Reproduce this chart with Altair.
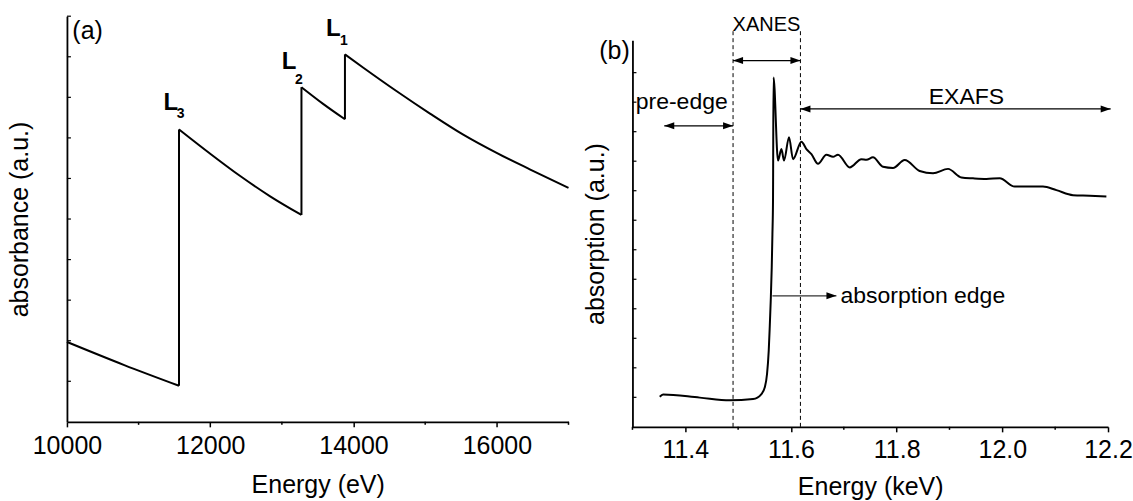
import altair as alt
import pandas as pd

FONT = "Liberation Sans"

# ---------------- panel (a) data: one smooth segment between each edge ----------------
seg_pre_energy = [10000, 10800, 11564]
seg_pre_abs = [1.97, 1.40, 0.89]
seg_l3_energy = [11564, 12000, 12418, 12836, 13273]
seg_l3_abs = [7.21, 6.61, 6.06, 5.56, 5.10]
seg_l2_energy = [13273, 13575, 13880]
seg_l2_abs = [8.25, 7.84, 7.46]
seg_l1_energy = [13880, 14137, 14603, 15067, 15531, 15997, 16467, 17000]
seg_l1_abs = [9.06, 8.73, 8.15, 7.60, 7.08, 6.63, 6.22, 5.77]

left_x_major = [10000, 12000, 14000, 16000]
left_x_minor = [11000, 13000, 15000, 17000]
left_y_ticks = [1, 2, 3, 4, 5, 6, 7, 8, 9, 10]

edge_main = ["L", "L", "L"]
edge_main_energy = [11347, 12999, 13616]
edge_main_abs = [7.70, 8.69, 9.51]
edge_sub = ["3", "2", "1"]
edge_sub_energy = [11534, 13184, 13812]
edge_sub_abs = [7.50, 8.33, 9.30]
panel_a = {"E": 10075, "A": 9.63, "t": "(a)"}

# ---------------- panel (b) data ----------------
right_energy = [11.3517, 11.3580, 11.4275, 11.4842, 11.5283, 11.5441, 11.5503, 11.5547,
                11.5579, 11.5598, 11.5617, 11.5636, 11.5649, 11.5660, 11.5670, 11.5755,
                11.5819, 11.5869, 11.5963, 11.6039, 11.6198, 11.6292, 11.6387, 11.6512,
                11.6671, 11.6796, 11.6890, 11.7112, 11.7333, 11.7428, 11.7552, 11.7742,
                11.7931, 11.8152, 11.8436, 11.8688, 11.8972, 11.9225, 11.9445, 11.9698,
                11.9950, 12.0234, 12.0455, 12.0769, 12.1023, 12.1337, 12.1653, 12.1969]
right_absorption = [1.02, 1.10, 0.99, 0.90, 0.94, 1.11, 1.33, 1.79,
                    2.58, 3.37, 4.27, 5.40, 6.53, 7.66, 11.84, 9.02,
                    9.41, 9.02, 9.81, 9.07, 9.66, 9.41, 9.24, 8.91,
                    9.22, 9.15, 9.22, 8.79, 9.07, 9.05, 9.13, 8.81,
                    8.77, 9.04, 8.67, 8.59, 8.74, 8.45, 8.42, 8.40,
                    8.42, 8.14, 8.14, 8.14, 8.02, 7.85, 7.83, 7.80]
right_x_major = [11.4, 11.6, 11.8, 12.0, 12.2]
right_x_minor = [11.3, 11.5, 11.7, 11.9, 12.1]
right_y_ticks = [1, 2, 3, 4, 5, 6, 7, 8, 9, 10, 11, 12]

region_bounds = [11.4904, 11.6179]          # dashed lines
dash_top = 13.42
arrow_names = ["XANES", "pre-edge", "EXAFS"]
arrow_start = [11.4904, 11.3602, 11.6179]
arrow_end = [11.6179, 11.4904, 12.205]
arrow_level = [12.41, 10.20, 10.77]
arrow_text_x = [11.5536, 11.3933, 11.932]
arrow_text_y = [13.60, 10.99, 11.16]
arrow_text_size = [20, 23, 23]
edge_arrow = {"E": 11.5649, "E2": 11.686, "A": 4.44}
edge_text = {"E": 11.6936, "A": 4.44, "t": "absorption edge"}
panel_b = {"E": 11.2949, "A": 12.75, "t": "(b)"}

W_L, H_L = 502, 406
W_R, H_R = 476, 387
FS = 25

axis_common = dict(domainColor="black", domainWidth=1.8, tickColor="black", tickWidth=1.5,
                   labelFont=FONT, titleFont=FONT, labelFontSize=FS, titleFontSize=FS,
                   titleFontWeight="normal", labelColor="black", titleColor="black",
                   grid=False, labelFlush=False, labelOverlap=False)

RIGHT_HEAD = "M0,0L-2,-0.7L-2,0.7Z"
LEFT_HEAD = "M0,0L2,-0.7L2,0.7Z"

# ---------------- panel (a) ----------------
xl = alt.X("E:Q", scale=alt.Scale(domain=[10000, 17000], nice=False, zero=False),
           axis=alt.Axis(values=left_x_major, format="d", title="Energy (eV)",
                         tickSize=5, labelPadding=7, titlePadding=14, **axis_common))
yl = alt.Y("A:Q", scale=alt.Scale(domain=[0, 10], nice=False, zero=False),
           axis=alt.Axis(labels=False, ticks=False, title="absorbance (a.u.)",
                         titlePadding=34, **axis_common))

segments = [(seg_pre_energy, seg_pre_abs), (seg_l3_energy, seg_l3_abs),
            (seg_l2_energy, seg_l2_abs), (seg_l1_energy, seg_l1_abs)]
rows = []
for k, (es, as_) in enumerate(segments):
    for e, a in zip(es, as_):
        rows.append({"E": e, "A": a, "seg": k})
df_left = pd.DataFrame(rows)
jumps = pd.DataFrame({
    "E": [segments[k][0][0] for k in range(1, len(segments))],
    "A": [segments[k - 1][1][-1] for k in range(1, len(segments))],
    "A2": [segments[k][1][0] for k in range(1, len(segments))],
})

left_line = alt.Chart(df_left).mark_line(color="black", strokeWidth=2,
                                         interpolate="monotone").encode(
    x=xl, y=yl, detail="seg:N")
left_jumps = alt.Chart(jumps).mark_rule(color="black", strokeWidth=2).encode(
    x=xl, y=yl, y2="A2:Q")

left_minor = alt.Chart(pd.DataFrame({"E": left_x_minor})).mark_rule(
    color="black", strokeWidth=1.5).encode(x=xl, y=alt.value(H_L), y2=alt.value(H_L + 3))
left_yt = alt.Chart(pd.DataFrame({"A": left_y_ticks})).mark_rule(
    color="black", strokeWidth=1.2).encode(y=yl, x=alt.value(0), x2=alt.value(4))

df_main = pd.DataFrame({"E": edge_main_energy, "A": edge_main_abs, "t": edge_main})
df_sub = pd.DataFrame({"E": edge_sub_energy, "A": edge_sub_abs, "t": edge_sub})
lab_main = alt.Chart(df_main).mark_text(font=FONT, fontSize=24, fontWeight="bold",
                                        align="left", baseline="alphabetic",
                                        color="black").encode(x=xl, y=yl, text="t:N")
lab_sub = alt.Chart(df_sub).mark_text(font=FONT, fontSize=14, fontWeight="bold",
                                      align="left", baseline="alphabetic",
                                      color="black").encode(x=xl, y=yl, text="t:N")
lab_a = alt.Chart(pd.DataFrame([panel_a])).mark_text(
    font=FONT, fontSize=FS, align="left", baseline="middle", color="black").encode(
    x=xl, y=yl, text="t:N")

left = alt.layer(left_line, left_jumps, left_minor, left_yt, lab_main, lab_sub,
                 lab_a).properties(width=W_L, height=H_L)

# ---------------- panel (b) ----------------
xr = alt.X("E:Q", scale=alt.Scale(domain=[11.3, 12.2], nice=False, zero=False),
           axis=alt.Axis(values=right_x_major, format=".1f", title="Energy (keV)",
                         tickSize=5, labelPadding=6, titlePadding=12, **axis_common))
yr = alt.Y("A:Q", scale=alt.Scale(domain=[0, 13.1], nice=False, zero=False),
           axis=alt.Axis(labels=False, ticks=False, title="absorption (a.u.)",
                         titlePadding=24, **axis_common))

df_right = pd.DataFrame({"E": right_energy, "A": right_absorption})
right_line = alt.Chart(df_right).mark_line(color="black", strokeWidth=2,
                                           interpolate="monotone").encode(x=xr, y=yr)

right_minor = alt.Chart(pd.DataFrame({"E": right_x_minor})).mark_rule(
    color="black", strokeWidth=1.5).encode(x=xr, y=alt.value(H_R), y2=alt.value(H_R + 3))
right_yt = alt.Chart(pd.DataFrame({"A": right_y_ticks})).mark_rule(
    color="black", strokeWidth=1.2).encode(y=yr, x=alt.value(0), x2=alt.value(4))

dashes = alt.Chart(pd.DataFrame({"E": region_bounds, "A": [0, 0],
                                 "A2": [dash_top, dash_top]})).mark_rule(
    color="black", strokeWidth=1, strokeDash=[4, 3]).encode(x=xr, y=yr, y2="A2:Q")

df_arrows = pd.DataFrame({"E": arrow_start, "E2": arrow_end, "A": arrow_level})
arrow_lines = alt.Chart(df_arrows).mark_rule(color="black", strokeWidth=1.2).encode(
    x=xr, x2="E2:Q", y=yr)
heads_right = alt.Chart(pd.DataFrame({"E": arrow_end + [edge_arrow["E2"]],
                                      "A": arrow_level + [edge_arrow["A"]]})).mark_point(
    shape=RIGHT_HEAD, filled=True, size=100, color="black", opacity=1, strokeWidth=0).encode(
    x=xr, y=yr)
heads_left = alt.Chart(pd.DataFrame({"E": arrow_start, "A": arrow_level})).mark_point(
    shape=LEFT_HEAD, filled=True, size=100, color="black", opacity=1, strokeWidth=0).encode(
    x=xr, y=yr)
edge_line = alt.Chart(pd.DataFrame([edge_arrow])).mark_rule(
    color="#333333", strokeWidth=1.2).encode(x=xr, x2="E2:Q", y=yr)

df_atext = pd.DataFrame({"E": arrow_text_x, "A": arrow_text_y, "t": arrow_names,
                         "s": arrow_text_size})
atext = alt.Chart(df_atext).mark_text(font=FONT, align="center", baseline="middle",
                                      color="black").encode(
    x=xr, y=yr, text="t:N", size=alt.Size("s:Q", scale=None, legend=None))
etext = alt.Chart(pd.DataFrame([edge_text])).mark_text(
    font=FONT, fontSize=23, align="left", baseline="middle", color="black").encode(
    x=xr, y=yr, text="t:N")
lab_b = alt.Chart(pd.DataFrame([panel_b])).mark_text(
    font=FONT, fontSize=FS, align="right", baseline="middle", color="black").encode(
    x=xr, y=yr, text="t:N")

right = alt.layer(dashes, right_line, right_minor, right_yt, arrow_lines, edge_line,
                  heads_right, heads_left, atext, etext, lab_b).properties(
    width=W_R, height=H_R)

spacer = alt.Chart(pd.DataFrame({"v": [0]})).mark_point(opacity=0).encode(
    x=alt.value(0), y=alt.value(0)).properties(width=10, height=24)

chart = alt.hconcat(
    left,
    alt.vconcat(spacer, right, spacing=0, bounds="flush"),
    spacing=64, bounds="flush",
).configure_view(stroke=None).properties(
    padding={"left": 8, "top": 13, "right": 0, "bottom": 0}, background="white")

chart.save("out.html", embed_options={"renderer": "svg", "actions": False})
